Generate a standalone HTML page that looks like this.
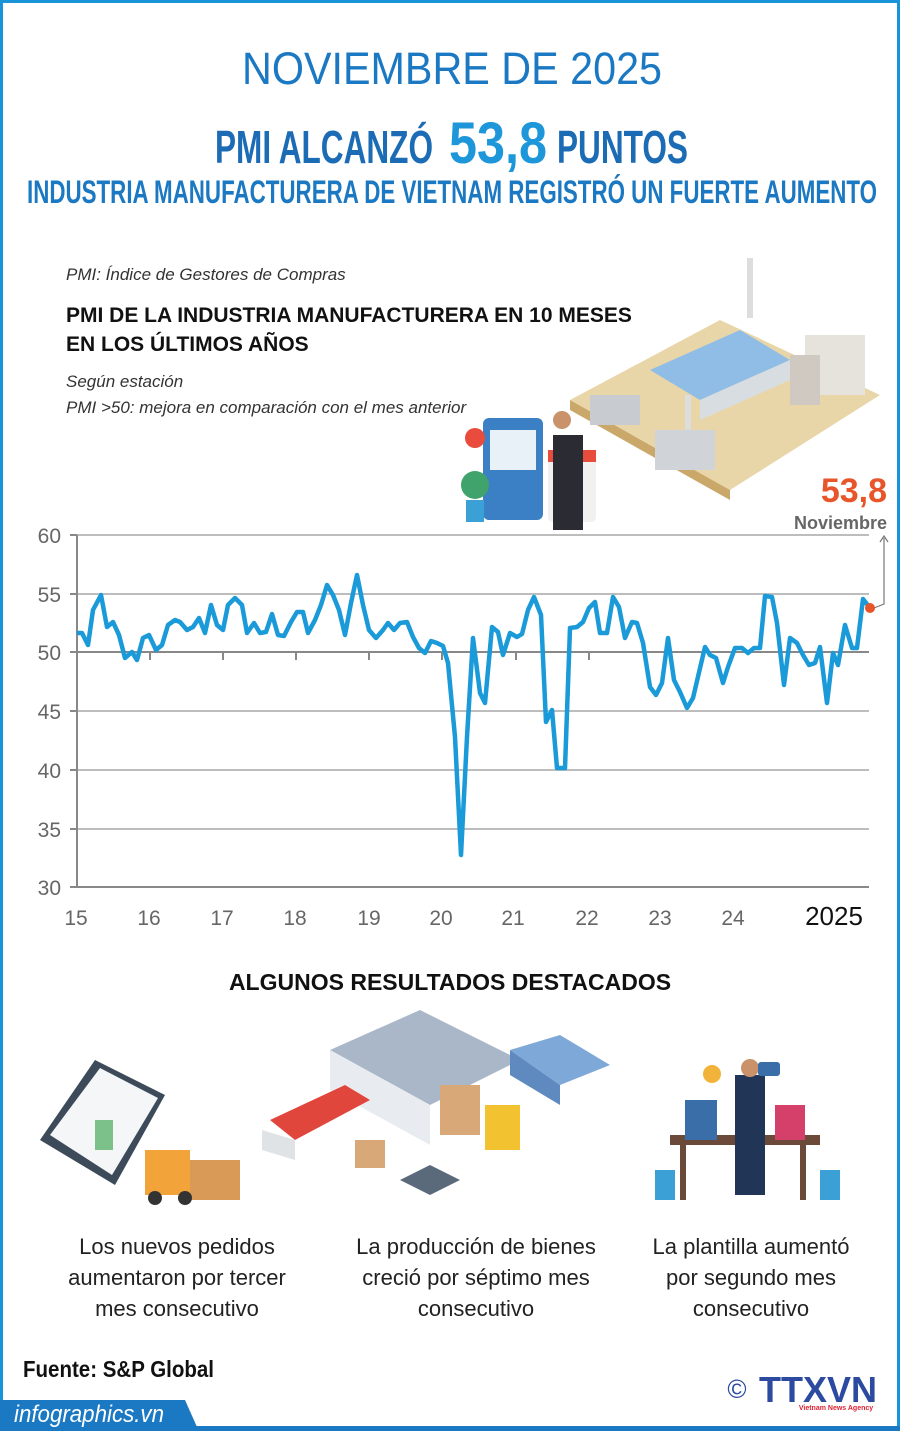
<!DOCTYPE html>
<html><head><meta charset="utf-8"><style>
*{margin:0;padding:0;box-sizing:border-box}
body{width:900px;height:1431px;background:#fff;position:relative;overflow:hidden;font-family:"Liberation Sans",sans-serif}
.frame{position:absolute;left:0;top:0;width:900px;height:1431px;border:3px solid #1a94d8;border-bottom:none}
.t{position:absolute;white-space:nowrap}
</style></head><body>
<div class="frame"></div>

<div class="t" style="left:66px;top:265px;font-size:17px;font-style:italic;color:#333">PMI: Índice de Gestores de Compras</div>
<div class="t" style="left:66px;top:301px;font-size:21px;font-weight:bold;color:#111;line-height:29px">PMI DE LA INDUSTRIA MANUFACTURERA EN 10 MESES<br>EN LOS ÚLTIMOS AÑOS</div>
<div class="t" style="left:66px;top:369px;font-size:17px;font-style:italic;color:#333;line-height:26px">Según estación<br>PMI &gt;50: mejora en comparación con el mes anterior</div>

<svg class="t" style="left:0;top:0" width="900" height="1431">
<!-- headers -->
<text x="242" y="84" font-size="45" fill="#1b78c2" textLength="420" lengthAdjust="spacingAndGlyphs">NOVIEMBRE DE 2025</text>
<text x="215" y="163" font-size="46" font-weight="bold" fill="#1b6bb5" textLength="218" lengthAdjust="spacingAndGlyphs">PMI ALCANZÓ</text>
<text x="449" y="163" font-size="58" font-weight="bold" fill="#1d96da" textLength="98" lengthAdjust="spacingAndGlyphs">53,8</text>
<text x="557" y="163" font-size="46" font-weight="bold" fill="#1b6bb5" textLength="131" lengthAdjust="spacingAndGlyphs">PUNTOS</text>
<text x="27" y="203" font-size="32" font-weight="bold" fill="#1b78c2" textLength="850" lengthAdjust="spacingAndGlyphs">INDUSTRIA MANUFACTURERA DE VIETNAM REGISTRÓ UN FUERTE AUMENTO</text>
<!-- factory illustration -->
<polygon points="570,400 720,320 880,395 730,490" fill="#e9d6a8"/>
<polygon points="570,400 730,490 730,500 570,410" fill="#c9a86a"/>
<polygon points="650,370 740,330 790,360 700,400" fill="#8fbde6"/>
<polygon points="700,400 790,360 790,380 700,420" fill="#d8dde2"/>
<rect x="805" y="335" width="60" height="60" fill="#e6e2dc"/><rect x="790" y="355" width="30" height="50" fill="#cfc9c2"/>
<rect x="747" y="258" width="6" height="60" fill="#ddd"/><rect x="685" y="395" width="6" height="40" fill="#ddd"/>
<rect x="655" y="430" width="60" height="40" fill="#d0d4d8"/><rect x="590" y="395" width="50" height="30" fill="#c8ccd0"/>
<!-- person/board -->
<rect x="483" y="418" width="60" height="102" rx="6" fill="#3b7fc4"/><rect x="490" y="430" width="46" height="40" fill="#e8f0f8"/>
<rect x="548" y="450" width="48" height="72" rx="5" fill="#f3f0f0"/><rect x="548" y="450" width="48" height="12" fill="#e74c3c"/>
<rect x="553" y="435" width="30" height="95" fill="#2b2b33"/><circle cx="562" cy="420" r="9" fill="#c9926b"/>
<circle cx="475" cy="485" r="14" fill="#3fa36b"/><rect x="466" y="500" width="18" height="22" fill="#3aa0d6"/><circle cx="475" cy="438" r="10" fill="#e94b3c"/>
<!-- chart -->
<g stroke="#bdbdbd" stroke-width="2">
<line x1="77" y1="535" x2="869" y2="535"/><line x1="77" y1="594" x2="869" y2="594"/>
<line x1="77" y1="711" x2="869" y2="711"/><line x1="77" y1="770" x2="869" y2="770"/>
<line x1="77" y1="829" x2="869" y2="829"/>
</g>
<g stroke="#888" stroke-width="2">
<line x1="77" y1="652" x2="869" y2="652"/><line x1="77" y1="887" x2="869" y2="887"/>
<line x1="77" y1="535" x2="77" y2="887"/>
<line x1="70" y1="535" x2="77" y2="535"/><line x1="70" y1="594" x2="77" y2="594"/><line x1="70" y1="652" x2="77" y2="652"/><line x1="70" y1="711" x2="77" y2="711"/><line x1="70" y1="770" x2="77" y2="770"/><line x1="70" y1="829" x2="77" y2="829"/><line x1="70" y1="887" x2="77" y2="887"/>
<line x1="150" y1="652" x2="150" y2="660"/><line x1="223" y1="652" x2="223" y2="660"/><line x1="296" y1="652" x2="296" y2="660"/><line x1="369" y1="652" x2="369" y2="660"/><line x1="442" y1="652" x2="442" y2="660"/><line x1="516" y1="652" x2="516" y2="660"/><line x1="589" y1="652" x2="589" y2="660"/>
</g>
<g font-size="21" fill="#666" text-anchor="end">
<text x="61" y="543">60</text><text x="61" y="602">55</text><text x="61" y="660">50</text><text x="61" y="719">45</text><text x="61" y="778">40</text><text x="61" y="837">35</text><text x="61" y="895">30</text>
</g>
<g font-size="21" fill="#666" text-anchor="middle">
<text x="76" y="925">15</text><text x="149" y="925">16</text><text x="222" y="925">17</text><text x="295" y="925">18</text><text x="369" y="925">19</text><text x="441" y="925">20</text><text x="513" y="925">21</text><text x="587" y="925">22</text><text x="660" y="925">23</text><text x="733" y="925">24</text>
</g>
<text x="834" y="925" font-size="26" fill="#111" text-anchor="middle">2025</text>
<polyline fill="none" stroke="#1a9ad9" stroke-width="4.5" stroke-linejoin="round" points="77,633 82,633 88,645 93,610 101,595 107,627 113,622 119,635 125,658 132,652 137,660 143,638 149,635 156,650 162,645 168,625 175,620 180,622 187,630 193,627 199,618 205,633 211,605 217,625 223,630 228,605 235,598 242,605 247,633 254,623 260,633 266,632 272,614 278,635 284,636 291,622 297,612 303,612 308,633 315,620 321,605 327,585 333,595 339,610 345,635 351,603 357,575 363,605 369,630 376,638 383,630 388,623 394,630 400,623 407,622 413,637 419,648 425,653 431,641 437,643 443,646 448,663 455,737 461,855 467,737 473,638 480,693 485,703 492,627 498,632 503,655 510,633 517,637 522,634 528,610 534,597 541,615 546,722 552,710 557,768 565,768 570,628 577,627 583,622 589,608 595,602 600,633 607,633 613,597 619,607 625,638 632,622 637,623 643,643 650,687 656,695 662,683 668,638 674,680 680,692 687,708 693,698 705,647 710,655 716,658 723,683 728,667 735,648 742,648 748,653 754,648 760,648 765,596 772,597 777,623 784,685 790,638 797,643 803,655 809,665 815,663 820,647 827,703 833,653 838,665 845,625 852,648 857,648 863,599 870,608"/>
<polyline fill="none" stroke="#777" stroke-width="1.2" points="874,608 884,604 884,538"/>
<polyline fill="none" stroke="#777" stroke-width="1.2" points="880,542 884,536 888,542"/>
<circle cx="870" cy="608" r="5" fill="#e8552a"/>
<text x="887" y="502" font-size="34" font-weight="bold" fill="#e8552a" text-anchor="end">53,8</text>
<text x="887" y="529" font-size="18" font-weight="bold" fill="#666" text-anchor="end">Noviembre</text>
<!-- bottom illustrations -->
<g>
<polygon points="40,1140 95,1060 165,1095 115,1185" fill="#3c4a5a"/><polygon points="50,1135 100,1068 158,1098 112,1175" fill="#f4f6f8"/>
<rect x="95" y="1120" width="18" height="30" fill="#7cc08a"/><rect x="145" y="1150" width="45" height="45" fill="#f2a33a"/>
<rect x="190" y="1160" width="50" height="40" fill="#d99a58"/><circle cx="155" cy="1198" r="7" fill="#333"/><circle cx="185" cy="1198" r="7" fill="#333"/>
<polygon points="330,1050 420,1010 520,1060 430,1105" fill="#aab7c8"/><polygon points="330,1050 430,1105 430,1145 330,1090" fill="#e8ecf0"/>
<polygon points="270,1120 345,1085 370,1100 295,1140" fill="#e0463c"/><polygon points="262,1130 295,1140 295,1160 262,1150" fill="#dfe3e6"/>
<polygon points="510,1050 560,1035 610,1065 560,1085" fill="#7da8d8"/><polygon points="510,1050 560,1085 560,1105 510,1075" fill="#5f8ac0"/>
<rect x="440" y="1085" width="40" height="50" fill="#d9a878"/><rect x="485" y="1105" width="35" height="45" fill="#f2c230"/>
<rect x="355" y="1140" width="30" height="28" fill="#d9a878"/><polygon points="400,1180 430,1165 460,1180 430,1195" fill="#5a6a7a"/>
<rect x="670" y="1135" width="150" height="10" fill="#6b4a3a"/><rect x="680" y="1145" width="6" height="55" fill="#6b4a3a"/><rect x="800" y="1145" width="6" height="55" fill="#6b4a3a"/>
<rect x="735" y="1075" width="30" height="120" fill="#213657"/><circle cx="750" cy="1068" r="9" fill="#c9926b"/>
<rect x="685" y="1100" width="32" height="40" fill="#3a6ea8"/><rect x="775" y="1105" width="30" height="35" fill="#d5406a"/>
<rect x="655" y="1170" width="20" height="30" fill="#3aa0d6"/><rect x="820" y="1170" width="20" height="30" fill="#3aa0d6"/>
<circle cx="712" cy="1074" r="9" fill="#f2b33a"/><rect x="758" y="1062" width="22" height="14" rx="3" fill="#3a6ea8"/>
</g>
<!-- footer -->
<polygon points="0,1400 185,1400 197,1427 0,1427" fill="#1b78c2"/>
<rect x="0" y="1426" width="900" height="5" fill="#1b78c2"/>
<text x="23" y="1377" font-size="23" font-weight="bold" fill="#111" textLength="191" lengthAdjust="spacingAndGlyphs">Fuente: S&amp;P Global</text>
<text x="14" y="1422" font-size="24" font-style="italic" fill="#fff" textLength="150" lengthAdjust="spacingAndGlyphs">infographics.vn</text>
<text x="737" y="1398" font-size="26" fill="#2b4aa0" text-anchor="middle">©</text>
<text x="818" y="1402" font-size="36" font-weight="bold" fill="#2b4aa0" text-anchor="middle" textLength="118" lengthAdjust="spacingAndGlyphs">TTXVN</text>
<text x="836" y="1410" font-size="7" font-weight="bold" fill="#d23" text-anchor="middle">Vietnam News Agency</text>
</svg>

<div class="t" style="left:0;width:900px;text-align:center;top:969px;font-size:23px;font-weight:bold;color:#111">ALGUNOS RESULTADOS DESTACADOS</div>
<div class="t" style="left:27px;width:300px;top:1231px;text-align:center;font-size:22px;line-height:31px;color:#222">Los nuevos pedidos<br>aumentaron por tercer<br>mes consecutivo</div>
<div class="t" style="left:326px;width:300px;top:1231px;text-align:center;font-size:22px;line-height:31px;color:#222">La producción de bienes<br>creció por séptimo mes<br>consecutivo</div>
<div class="t" style="left:601px;width:300px;top:1231px;text-align:center;font-size:22px;line-height:31px;color:#222">La plantilla aumentó<br>por segundo mes<br>consecutivo</div>
</body></html>
